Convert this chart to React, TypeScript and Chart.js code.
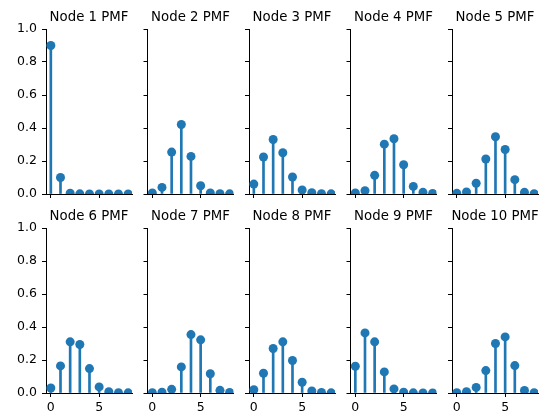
import React, { useEffect, useRef } from "react";
import { Chart, registerables } from "chart.js";
Chart.register(...registerables);

// ---- data ----
const xValues = [0, 1, 2, 3, 4, 5, 6, 7, 8];
const node1 = [0.9, 0.1, 0.005, 0.001, 0.0, 0.0, 0.0, 0.0, 0.0];
const node2 = [0.006, 0.04, 0.254, 0.421, 0.228, 0.05, 0.006, 0.002, 0.001];
const node3 = [0.06, 0.224, 0.33, 0.25, 0.103, 0.024, 0.008, 0.002, 0.001];
const node4 = [0.006, 0.02, 0.113, 0.302, 0.335, 0.177, 0.046, 0.01, 0.003];
const node5 = [0.004, 0.012, 0.065, 0.212, 0.347, 0.27, 0.087, 0.01, 0.002];
const node6 = [0.03, 0.164, 0.31, 0.294, 0.148, 0.037, 0.008, 0.002, 0.001];
const node7 = [0.002, 0.005, 0.022, 0.158, 0.354, 0.322, 0.117, 0.016, 0.003];
const node8 = [0.02, 0.12, 0.27, 0.31, 0.197, 0.065, 0.012, 0.003, 0.001];
const node9 = [0.162, 0.364, 0.31, 0.128, 0.025, 0.005, 0.001, 0.0, 0.0];
const node10 = [0.002, 0.008, 0.034, 0.136, 0.3, 0.34, 0.166, 0.015, 0.002];
const seriesList = [node1, node2, node3, node4, node5, node6, node7, node8, node9, node10];
const titles = [
  "Node 1 PMF", "Node 2 PMF", "Node 3 PMF", "Node 4 PMF", "Node 5 PMF",
  "Node 6 PMF", "Node 7 PMF", "Node 8 PMF", "Node 9 PMF", "Node 10 PMF",
];
const yTicks = [0, 0.2, 0.4, 0.6, 0.8, 1.0];
const xTicks = [0, 5];

// ---- layout ----
const W = 546;
const H = 416;
const colLefts = [46, 147.5, 249, 350.5, 452];
const rowTops = [29, 228];
const plotW = 86;
const plotH = 165;
const YW = 40;
const XH = 22;
const COLOR = "#1f77b4";
const FONT = "'DejaVu Sans', sans-serif";

const titlePlugin = {
  id: "panelTitle",
  afterDraw(chart: any, _args: any, opts: any) {
    const { ctx, chartArea } = chart;
    ctx.save();
    ctx.font = `13.3px ${FONT}`;
    ctx.fillStyle = "#000";
    ctx.textAlign = "center";
    ctx.textBaseline = "alphabetic";
    ctx.fillText(opts.text, (chartArea.left + chartArea.right) / 2, chartArea.top - 8.5);
    ctx.restore();
  },
};

function Panel({ idx }: { idx: number }) {
  const ref = useRef<HTMLCanvasElement>(null);
  useEffect(() => {
    const row = Math.floor(idx / 5);
    const col = idx % 5;
    const L = colLefts[col];
    const T = rowTops[row];
    const values = seriesList[idx];
    const pts = xValues.map((x, i) => ({ x, y: values[i] }));
    const showY = col === 0;
    const showX = row === 1;
    const chart = new Chart(ref.current as HTMLCanvasElement, {
      type: "bar",
      data: {
        datasets: [
          {
            type: "line",
            data: pts,
            showLine: false,
            pointRadius: 4.5,
            pointHoverRadius: 4.5,
            pointBackgroundColor: COLOR,
            pointBorderWidth: 0,
            borderColor: COLOR,
            order: 1,
          } as any,
          {
            type: "bar",
            data: pts,
            backgroundColor: COLOR,
            borderWidth: 0,
            barThickness: 2,
            order: 2,
          } as any,
        ],
      },
      options: {
        responsive: false,
        animation: false,
        events: [],
        layout: {
          padding: {
            left: L - YW,
            right: W - (L + plotW),
            top: T,
            bottom: H - (T + plotH) - XH,
          },
        },
        plugins: {
          legend: { display: false },
          tooltip: { enabled: false },
          title: { display: false },
          panelTitle: { text: titles[idx] },
        } as any,
        scales: {
          x: {
            type: "linear",
            min: -0.5,
            max: 8.4,
            offset: false,
            grid: {
              drawOnChartArea: false,
              drawTicks: true,
              tickLength: 4,
              color: "#000",
              offset: false,
            },
            border: { display: true, color: "#000", width: 1 },
            ticks: {
              color: showX ? "#000" : "rgba(0,0,0,0)",
              font: { family: FONT, size: 12.5 },
              padding: 3,
              maxRotation: 0,
              autoSkip: false,
              callback: (v: any) => String(v),
            },
            afterBuildTicks: (s: any) => {
              s.ticks = xTicks.map((v) => ({ value: v }));
            },
            afterFit: (s: any) => {
              s.height = XH;
              s.paddingLeft = 0;
              s.paddingRight = 0;
            },
          } as any,
          y: {
            type: "linear",
            min: 0,
            max: 1,
            grid: {
              drawOnChartArea: false,
              drawTicks: true,
              tickLength: 4,
              color: "#000",
            },
            border: { display: true, color: "#000", width: 1 },
            ticks: {
              color: showY ? "#000" : "rgba(0,0,0,0)",
              font: { family: FONT, size: 12.5 },
              padding: 5,
              autoSkip: false,
              callback: (v: any) => Number(v).toFixed(1),
            },
            afterBuildTicks: (s: any) => {
              s.ticks = yTicks.map((v) => ({ value: v }));
            },
            afterFit: (s: any) => {
              s.width = YW;
              s.paddingTop = 0;
              s.paddingBottom = 0;
            },
          } as any,
        },
      },
      plugins: [titlePlugin as any],
    });
    return () => chart.destroy();
  }, [idx]);
  return (
    <canvas
      ref={ref}
      width={W}
      height={H}
      style={{ position: "absolute", left: 0, top: 0, width: W, height: H }}
    />
  );
}

export default function App() {
  return (
    <div
      style={{
        position: "fixed",
        left: 0,
        top: 0,
        width: W,
        height: H,
        background: "#fff",
      }}
    >
      {seriesList.map((_, i) => (
        <Panel key={i} idx={i} />
      ))}
    </div>
  );
}
